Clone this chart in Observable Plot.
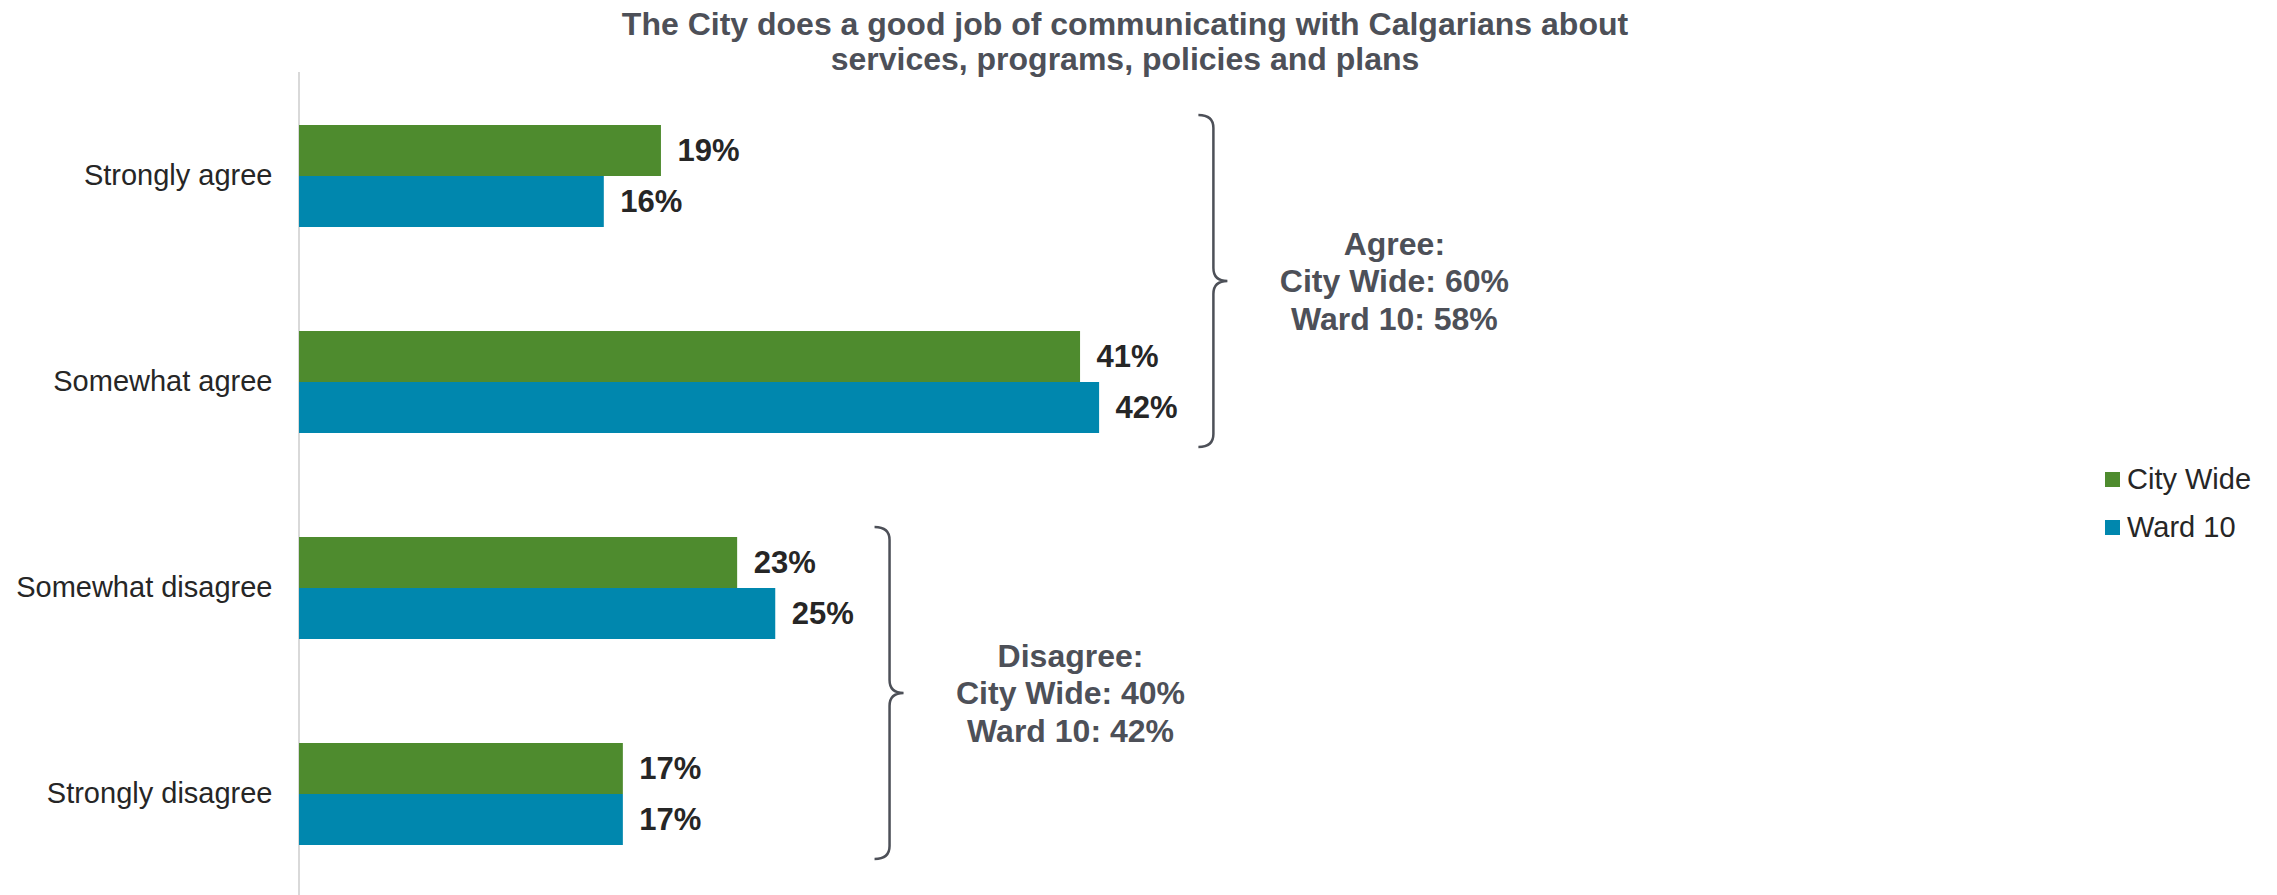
<!DOCTYPE html>
<html><head><meta charset="utf-8">
<script src="https://cdn.jsdelivr.net/npm/d3@7"></script>
<script src="https://cdn.jsdelivr.net/npm/@observablehq/plot@0.6"></script>
<style>
body{margin:0;background:#fff;font-family:"Liberation Sans",Arial,sans-serif;}
#wrap{position:relative;width:2277px;height:895px;overflow:hidden;background:#fff;}
#title{position:absolute;left:0;top:7px;width:2250px;text-align:center;font-weight:bold;font-size:32px;line-height:35px;color:#4d5058;}
#chart{position:absolute;left:0;top:72px;}
#legend{position:absolute;left:2105px;top:455px;font-size:29px;color:#262626;}
.row{display:flex;align-items:center;height:48px;}
.sw{width:15px;height:15px;margin-right:7px;}
</style></head><body>
<div id="wrap">
<div id="title">The City does a good job of communicating with Calgarians about<br>services, programs, policies and plans</div>
<div id="chart"></div>
<div id="legend"></div>
</div>
<script>
// ---- data ----
const categories = ["Strongly agree", "Somewhat agree", "Somewhat disagree", "Strongly disagree"];
const series = ["City Wide", "Ward 10"];
const cityWide = [19, 41, 23, 17];
const ward10 = [16, 42, 25, 17];
const seriesColors = ["#4E8B2E", "#0087AE"];
const groupNames = ["Agree", "Disagree"];
const groupMembers = [["Strongly agree", "Somewhat agree"], ["Somewhat disagree", "Strongly disagree"]];
const groupCityWide = [60, 40];
const groupWard10 = [58, 42];

const data = categories.flatMap((c, i) => [
  {category: c, series: series[0], value: cityWide[i]},
  {category: c, series: series[1], value: ward10[i]}
]);

const font = '"Liberation Sans", Arial, sans-serif';
const plot = Plot.plot({
  width: 2277, height: 823,
  marginLeft: 299, marginRight: 73, marginTop: 1, marginBottom: 0,
  style: {fontFamily: font, fontSize: "29px", color: "#262626", background: "transparent"},
  x: {domain: [0, 100], axis: null},
  y: {domain: series, padding: 0, axis: null},
  fy: {domain: categories, paddingInner: 0.5, paddingOuter: 0.24, axis: "left", label: null, tickSize: 0, tickPadding: 27},
  color: {domain: series, range: seriesColors},
  marks: [
    Plot.barX(data, {fy: "category", y: "series", x: "value", fill: "series"}),
    Plot.text(data, {fy: "category", y: "series", x: "value", text: d => d.value + "%",
      textAnchor: "start", dx: 16, fontWeight: "bold", fontSize: 31, fill: "#262626"})
  ]
});
document.getElementById("chart").appendChild(plot);

// ---- axis line, braces and group annotations, positioned with the plot's scales ----
const X = plot.scale("x"), FY = plot.scale("fy");
const svg = d3.select(plot);
const x0 = X.apply(0);
svg.insert("line", ":first-child")
  .attr("x1", x0).attr("x2", x0).attr("y1", 0).attr("y2", 823)
  .attr("stroke", "#d9d9d9").attr("stroke-width", 2);

const braceColor = "#4d5058";
groupNames.forEach((g, gi) => {
  const members = groupMembers[gi];
  const maxV = d3.max(data.filter(d => members.includes(d.category)), d => d.value);
  const bx = X.apply(maxV + 6);
  const yT = FY.apply(members[0]) - 9;
  const yB = FY.apply(members[members.length - 1]) + FY.bandwidth + 14;
  const yM = (yT + yB) / 2;
  const r = 13;
  const p = `M${bx - 15},${yT} Q${bx},${yT} ${bx},${yT + r} L${bx},${yM - r} Q${bx},${yM} ${bx + 14},${yM} Q${bx},${yM} ${bx},${yM + r} L${bx},${yB - r} Q${bx},${yB} ${bx - 15},${yB}`;
  svg.append("path").attr("d", p).attr("fill", "none").attr("stroke", braceColor).attr("stroke-width", 2.5);
  const tx = X.apply(maxV + 15.5);
  const lines = [g + ":", "City Wide: " + groupCityWide[gi] + "%", "Ward 10: " + groupWard10[gi] + "%"];
  lines.forEach((t, li) => {
    svg.append("text").attr("x", tx).attr("y", yM + (li - 1) * 37.5).attr("dy", "0.35em")
      .attr("text-anchor", "middle").attr("font-weight", "bold").attr("font-size", 32)
      .attr("font-family", font).attr("fill", braceColor).text(t);
  });
});

// ---- legend ----
const C = plot.scale("color");
const leg = document.getElementById("legend");
series.forEach(s => {
  const row = document.createElement("div"); row.className = "row";
  const sw = document.createElement("div"); sw.className = "sw"; sw.style.background = C.apply(s);
  const lab = document.createElement("span"); lab.textContent = s;
  row.appendChild(sw); row.appendChild(lab); leg.appendChild(row);
});
</script>
</body></html>
